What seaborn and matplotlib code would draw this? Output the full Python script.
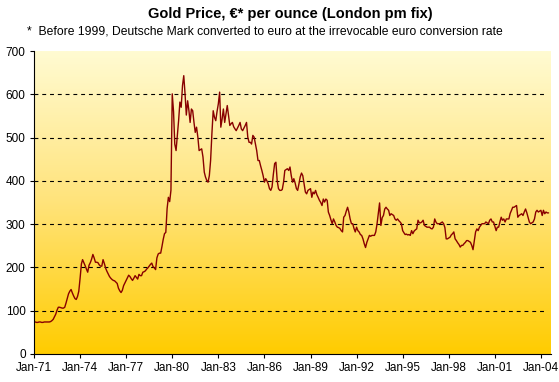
import numpy as np
import pandas as pd
import matplotlib
matplotlib.use("Agg")
import matplotlib.pyplot as plt
import matplotlib.dates as mdates
from matplotlib.colors import LinearSegmentedColormap
import seaborn as sns

# Monthly gold price, EUR per ounce, starting Jan 1971
gold_1970s = [74, 74, 73, 73, 74, 74, 73, 73, 74, 74, 74, 74,
              74, 75, 77, 80, 86, 92, 101, 108, 108, 107, 106, 106,
              108, 118, 128, 139, 145, 149, 141, 134, 128, 126, 133, 145,
              175, 208, 218, 211, 204, 196, 189, 205, 211, 219, 230, 222,
              212, 212, 211, 206, 203, 203, 218, 209, 198, 191, 185, 179,
              175, 172, 170, 169, 166, 163, 152, 146, 142, 147, 158, 164,
              170, 176, 182, 179, 174, 170, 175, 181, 177, 173, 184, 181,
              181, 189, 190, 192, 196, 199, 203, 207, 210, 202, 199, 195,
              222, 231, 233, 233, 248, 265, 278, 281, 336, 362, 352, 378]
gold_1980s = [601, 560, 485, 470, 505, 540, 582, 570, 620, 643, 600, 552,
              585, 562, 535, 566, 562, 535, 512, 524, 501, 470, 472, 474,
              455, 420, 409, 401, 397, 412, 447, 509, 562, 547, 539, 560,
              578, 605, 524, 543, 566, 535, 555, 574, 550, 528, 532, 535,
              525, 520, 516, 522, 528, 535, 520, 516, 522, 528, 535, 501,
              489, 489, 485, 505, 501, 485, 470, 447, 447, 435, 424, 412,
              397, 405, 400, 393, 382, 378, 386, 415, 440, 443, 400, 382,
              378, 378, 380, 397, 424, 426, 428, 424, 432, 412, 397, 405,
              395, 382, 378, 393, 409, 418, 412, 393, 374, 370, 378, 380,
              382, 362, 374, 370, 378, 368, 362, 355, 350, 343, 358, 351]
gold_1990s = [358, 355, 328, 320, 310, 301, 312, 305, 297, 293, 292, 290,
              285, 282, 316, 320, 330, 339, 328, 312, 301, 301, 290, 282,
              293, 285, 282, 276, 274, 266, 255, 246, 258, 266, 274, 272,
              274, 274, 274, 282, 300, 324, 349, 297, 315, 320, 335, 339,
              335, 332, 320, 324, 322, 320, 312, 309, 312, 308, 305, 301,
              285, 280, 276, 277, 275, 276, 274, 285, 278, 284, 287, 289,
              309, 303, 303, 305, 309, 297, 295, 293, 293, 293, 290, 289,
              293, 312, 305, 301, 301, 301, 303, 305, 301, 292, 266, 266,
              268, 270, 275, 278, 282, 266, 262, 257, 253, 247, 251, 251,
              255, 258, 262, 262, 260, 258, 251, 241, 262, 282, 289, 285]
gold_2000s = [293, 297, 301, 301, 301, 305, 303, 301, 309, 312, 305, 305,
              295, 285, 293, 293, 305, 316, 309, 312, 305, 312, 312, 312,
              325, 332, 339, 339, 341, 343, 316, 320, 322, 324, 320, 328,
              335, 326, 316, 305, 301, 303, 305, 312, 328, 332, 328, 330,
              332, 320, 332, 324, 328, 326, 326]

start_month = "1971-01-01"
x_start, x_end = "1971-01-01", "2004-08-28"
y_ticks = [0, 100, 200, 300, 400, 500, 600, 700]
grid_levels = [100, 200, 300, 400, 500, 600]
title = "Gold Price, \u20ac* per ounce (London pm fix)"
note = "*  Before 1999, Deutsche Mark converted to euro at the irrevocable euro conversion rate"

values = gold_1970s + gold_1980s + gold_1990s + gold_2000s
df = pd.DataFrame({
    "date": pd.date_range(start_month, periods=len(values), freq="MS"),
    "price": values,
})

sns.set_style("white")
plt.rcParams["font.family"] = ["Liberation Sans", "DejaVu Sans"]
plt.rcParams["text.color"] = "black"
plt.rcParams["xtick.color"] = "black"
plt.rcParams["ytick.color"] = "black"
plt.rcParams["xtick.labelcolor"] = "black"
plt.rcParams["ytick.labelcolor"] = "black"

fig = plt.figure(figsize=(5.59, 3.82), dpi=100)
ax = fig.add_axes([34 / 559, 1 - 354 / 382, (551 - 34) / 559, (354 - 51) / 382])

cmap = LinearSegmentedColormap.from_list("gold", ["#FFCC00", "#FFE37A", "#FFFBD2"])
grad = np.linspace(0, 1, 256).reshape(-1, 1)
ax.imshow(grad, extent=[0, 1, 0, 1], transform=ax.transAxes, aspect="auto",
          cmap=cmap, origin="lower", zorder=0)

for lv in grid_levels:
    ax.axhline(lv, xmax=0.992, color="black", lw=0.8, linestyle=(0, (3.5, 3.5)), zorder=1)

sns.lineplot(data=df, x="date", y="price", ax=ax, color="#880000", lw=1.0, zorder=2)

ax.set_xlim(pd.Timestamp(x_start), pd.Timestamp(x_end))
ax.set_ylim(0, 700)
ax.set_yticks(y_ticks)
ax.xaxis.set_major_locator(mdates.YearLocator(3, month=1, day=1))
ax.xaxis.set_major_formatter(mdates.DateFormatter("%b-%y"))
ax.set_xlabel("")
ax.set_ylabel("")
ax.tick_params(axis="both", direction="out", length=3, width=0.8, pad=3,
               labelsize=8.5, color="black", labelcolor="black", left=True, bottom=True)
for s in ["top", "right"]:
    ax.spines[s].set_visible(False)
for s in ["left", "bottom"]:
    ax.spines[s].set_color("black")
    ax.spines[s].set_linewidth(0.8)
ax.set_facecolor("white")

fig.text(290 / 559, 1 - 14 / 382, title, ha="center", va="center",
         fontsize=10.5, fontweight="bold", color="black")
fig.text(27 / 559, 1 - 31 / 382, note, ha="left", va="center", fontsize=8.7, color="black")

fig.savefig("out.png", dpi=100)
